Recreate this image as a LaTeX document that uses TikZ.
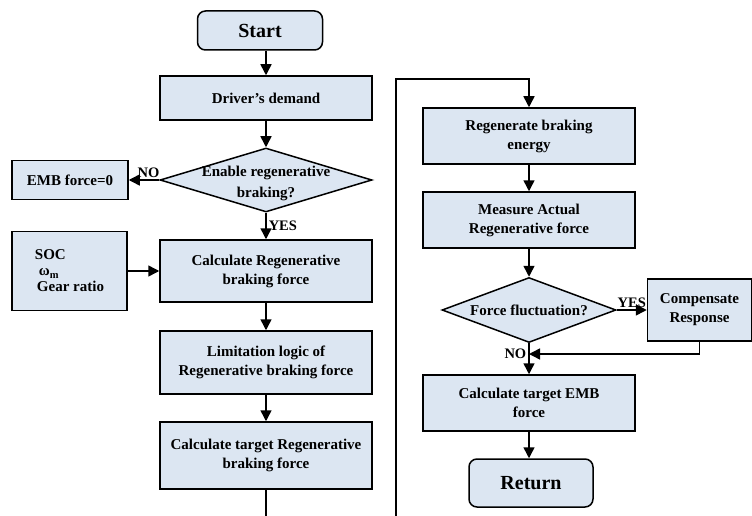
\documentclass[tikz,border=0pt]{standalone}
\usepackage{fontspec}
\setmainfont{Liberation Serif}
\usepackage{xcolor}
\usetikzlibrary{shapes.geometric, arrows.meta, positioning}
\definecolor{boxblue}{HTML}{DCE6F2}

\begin{document}
\begin{tikzpicture}[x=1pt, y=-1pt,
        box/.style={rectangle, draw, fill=boxblue, line width=1.5pt, align=center, inner sep=2pt,
            minimum width=212pt, font=\bfseries\fontsize{15}{19}\selectfont},
        term/.style={box, rounded corners=8pt, minimum width=124pt, font=\bfseries\fontsize{20}{24}\selectfont},
        decision/.style={diamond, draw, fill=boxblue, line width=1.5pt, inner sep=0pt},
        dtext/.style={align=center, inner sep=0pt, font=\bfseries\fontsize{15}{21}\selectfont},
        arrow/.style={line width=1.5pt, -{Triangle[length=11pt, width=11pt]}},
        line/.style={line width=1.5pt},
        tag/.style={font=\bfseries\fontsize{14.5}{16}\selectfont, inner sep=2pt}
    ]
        \useasboundingbox (0,0) rectangle (752,516);

        % left column
        \node[term, minimum width=125pt, minimum height=39pt] (start) at (260,30.5) {Start};
        \node[box, minimum height=44pt] (drv) at (266,98) {Driver’s demand};
        \node[decision, minimum width=212pt, minimum height=64pt] (enable) at (266,180) {};
        \node[dtext] at (266,183) {Enable regenerative\\braking?};
        \node[box, minimum width=116pt, minimum height=39pt] (emb0) at (70,180) {EMB force=0};
        \node[box, minimum width=115pt, minimum height=79pt, align=left,
            font=\bfseries\fontsize{15}{16}\selectfont] (inputs) at (69.5,271) {SOC\\\hspace*{4pt}ω\textsubscript{m}\\\hspace*{2pt}Gear ratio};
        \node[box, minimum height=62pt] (calc) at (266,271) {Calculate Regenerative\\braking force};
        \node[box, minimum height=63pt] (limit) at (266,362.5) {Limitation logic of\\Regenerative braking force};
        \node[box, minimum height=67pt] (target) at (266,455.5) {Calculate target Regenerative\\braking force};
        \coordinate (outL) at (266,516);

        % right column
        \coordinate (outR) at (396,516);
        \coordinate (bend) at (396,79);
        \node[box, minimum height=56pt] (regen) at (529,136) {Regenerate braking\\energy};
        \node[box, minimum height=56pt] (measure) at (529,220) {Measure Actual\\Regenerative force};
        \node[decision, minimum width=174pt, minimum height=65pt] (fluct) at (529,310) {};
        \node[dtext] at (fluct) {Force fluctuation?};
        \node[box, minimum width=104pt, minimum height=62pt] (comp) at (699.5,310) {Compensate\\Response};
        \coordinate (merge) at (529,354);
        \node[box, minimum height=56pt] (embt) at (529,403) {Calculate target EMB\\force};
        \node[term, minimum height=48pt] (ret) at (531,483) {Return};

        % connectors
        \draw[arrow] (start.south -| drv) -- (drv);
        \draw[arrow] (drv) -- (enable);
        \draw[arrow] (enable) -- (emb0) node[tag, pos=0.35, above] {NO};
        \draw[arrow] (enable) -- (calc) node[tag, midway, right] {YES};
        \draw[arrow] (inputs) -- (calc);
        \draw[arrow] (calc) -- (limit);
        \draw[arrow] (limit) -- (target);
        \draw[line] (target) -- (outL);
        \draw[arrow] (outR) -- (bend) -| (regen);
        \draw[arrow] (regen) -- (measure);
        \draw[arrow] (measure) -- (fluct);
        \draw[arrow] (fluct) -- (comp) node[tag, midway, above] {YES};
        \draw[arrow] (fluct) -- (embt) node[tag, pos=0.33, left] {NO};
        \draw[arrow] (comp.south) |- (merge);
        \draw[arrow] (embt) -- (ret.north -| embt);
    \end{tikzpicture}
\end{document}
